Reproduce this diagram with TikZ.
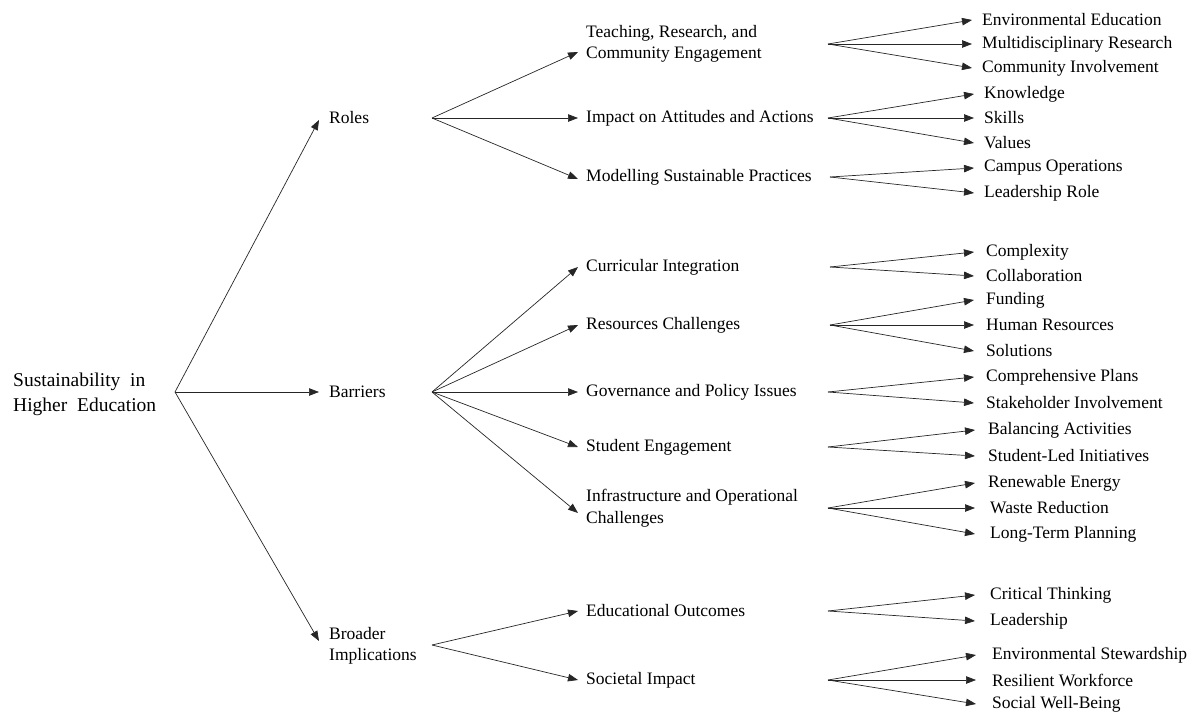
\documentclass[tikz,border=0pt]{standalone}
\usepackage{fontspec}
\setmainfont{Liberation Serif}
\usetikzlibrary{arrows.meta}
\begin{document}
\begin{tikzpicture}[x=1pt,y=-1pt,
  txt/.style={anchor=west, inner sep=0pt, align=left, font=\fontsize{17.5}{21.5}\selectfont},
  roottxt/.style={anchor=west, inner sep=0pt, align=left, font=\fontsize{19.5}{25}\selectfont},
  arr/.style={-{Triangle[length=10pt,width=7.5pt]}, line width=0.7pt, draw=black!85}]
\useasboundingbox (0,0) rectangle (1194,712);

% root
\node[roottxt] (root) at (13,394) {Sustainability\ \ in\\Higher\ \ Education};
\coordinate (rootF) at (175,392);

% level 1
\node[txt] (roles) at (329,118) {Roles};
\node[txt] (barr) at (329,392) {Barriers};
\node[txt] (broad) at (329,646) {Broader\\Implications};
\coordinate (rolesF) at (432,118);
\coordinate (barrF) at (432,392);
\coordinate (broadF) at (432,645);

\draw[arr] (rootF) -- ([xshift=-10pt,yshift=-2pt]roles.west);
\draw[arr] (rootF) -- ([xshift=-10pt]barr.west);
\draw[arr] (rootF) -- ([xshift=-10pt,yshift=5pt]broad.west);

% level 2 - roles
\node[txt] (teach) at (586,44) {Teaching,\ Research, and\\Community Engagement};
\node[txt] (impact) at (586,118) {Impact on Attitudes and Actions};
\node[txt] (model) at (586,177) {Modelling\ Sustainable Practices};
\draw[arr] (rolesF) -- ([xshift=-8pt,yshift=-8pt]teach.west);
\draw[arr] (rolesF) -- ([xshift=-8pt]impact.west);
\draw[arr] (rolesF) -- ([xshift=-8pt,yshift=-2pt]model.west);

% level 2 - barriers
\node[txt] (curr) at (586,267) {Curricular\ Integration};
\node[txt] (res) at (586,325) {Resources Challenges};
\node[txt] (gov) at (586,392) {Governance and Policy Issues};
\node[txt] (stud) at (586,447) {Student Engagement};
\node[txt] (infra) at (586,508) {Infrastructure and Operational\\Challenges};
\draw[arr] (barrF) -- ([xshift=-8pt]curr.west);
\draw[arr] (barrF) -- ([xshift=-8pt]res.west);
\draw[arr] (barrF) -- ([xshift=-8pt]gov.west);
\draw[arr] (barrF) -- ([xshift=-8pt]stud.west);
\draw[arr] (barrF) -- ([xshift=-8pt,yshift=-5pt]infra.west);

% level 2 - broader
\node[txt] (edu) at (586,611) {Educational Outcomes};
\node[txt] (soc) at (586,680) {Societal Impact};
\draw[arr] (broadF) -- ([xshift=-8pt]edu.west);
\draw[arr] (broadF) -- ([xshift=-8pt]soc.west);

% fan origins level 3
\coordinate (teachF) at (828,44);
\coordinate (impactF) at (828,118);
\coordinate (modelF) at (830,177);
\coordinate (currF) at (830,267);
\coordinate (resF) at (830,325);
\coordinate (govF) at (828,392);
\coordinate (studF) at (828,447);
\coordinate (infraF) at (828,508);
\coordinate (eduF) at (828,611);
\coordinate (socF) at (828,680);

% leaves
\node[txt] (l1) at (982,20) {Environmental Education};
\node[txt] (l2) at (982,44) {Multidisciplinary\ Research};
\node[txt] (l3) at (982,68) {Community Involvement};
\foreach \n in {l1,l2,l3} \draw[arr] (teachF) -- ([xshift=-10pt]\n.west);

\node[txt] (l4) at (984,94) {Knowledge};
\node[txt] (l5) at (984,118) {Skills};
\node[txt] (l6) at (984,143) {Values};
\foreach \n in {l4,l5,l6} \draw[arr] (impactF) -- ([xshift=-10pt]\n.west);

\node[txt] (l7) at (984,168) {Campus Operations};
\node[txt] (l8) at (984,193) {Leadership Role};
\foreach \n in {l7,l8} \draw[arr] (modelF) -- ([xshift=-10pt]\n.west);

\node[txt] (l9) at (986,252) {Complexity};
\node[txt] (l10) at (986,276) {Collaboration};
\foreach \n in {l9,l10} \draw[arr] (currF) -- ([xshift=-12pt]\n.west);

\node[txt] (l11) at (986,300) {Funding};
\node[txt] (l12) at (986,325) {Human Resources};
\node[txt] (l13) at (986,351) {Solutions};
\foreach \n in {l11,l12,l13} \draw[arr] (resF) -- ([xshift=-12pt]\n.west);

\node[txt] (l14) at (986,377) {Comprehensive Plans};
\node[txt] (l15) at (986,403) {Stakeholder Involvement};
\foreach \n in {l14,l15} \draw[arr] (govF) -- ([xshift=-12pt]\n.west);

\node[txt] (l16) at (988,430) {Balancing\ Activities};
\node[txt] (l17) at (988,456) {Student-Led Initiatives};
\foreach \n in {l16,l17} \draw[arr] (studF) -- ([xshift=-13pt]\n.west);

\node[txt] (l18) at (988,483) {Renewable Energy};
\node[txt] (l19) at (990,508) {Waste Reduction};
\node[txt] (l20) at (990,534) {Long-Term\ Planning};
\draw[arr] (infraF) -- ([xshift=-13pt]l18.west);
\draw[arr] (infraF) -- ([xshift=-15pt]l19.west);
\draw[arr] (infraF) -- ([xshift=-15pt]l20.west);

\node[txt] (l21) at (990,595) {Critical Thinking};
\node[txt] (l22) at (990,621) {Leadership};
\foreach \n in {l21,l22} \draw[arr] (eduF) -- ([xshift=-15pt]\n.west);

\node[txt] (l23) at (992,655) {Environmental Stewardship};
\node[txt] (l24) at (992,680) {Resilient Workforce};
\node[txt] (l25) at (992,704) {Social Well-Being};
\foreach \n in {l23,l24,l25} \draw[arr] (socF) -- ([xshift=-16pt]\n.west);
\end{tikzpicture}
\end{document}
